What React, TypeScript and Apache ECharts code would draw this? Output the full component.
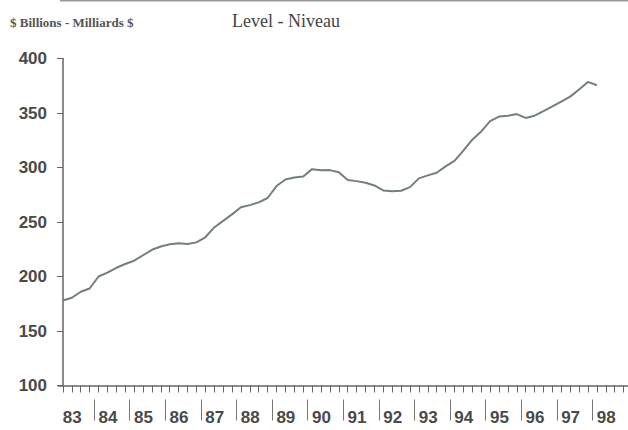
import React, { useEffect, useRef } from "react";
import * as echarts from "echarts";

// Quarterly categories 1983Q1 .. 1998Q4
const years = ["83", "84", "85", "86", "87", "88", "89", "90", "91", "92", "93", "94", "95", "96", "97", "98"];
const quarters: string[] = [];
years.forEach((y) => {
  for (let q = 1; q <= 4; q++) quarters.push(y + "Q" + q);
});

// Level, $ billions, 1983Q1 .. 1998Q1
const level = [
  178, 180.5, 186, 189,
  200, 203.5, 208, 211.5,
  214.5, 219.5, 224.5, 227.5,
  229.5, 230.5, 229.8, 231.3,
  236, 245, 251, 257,
  263.5, 265.5, 268, 272,
  283, 289, 290.8, 291.7,
  298.5, 297.5, 297.6, 295.7,
  288.5, 287.5, 286, 283.5,
  279, 278.3, 278.7, 282,
  290, 292.8, 295.2, 301,
  306, 315.5, 325.5, 333,
  342.5, 346.7, 347.5, 349,
  345.5, 347.5, 351.7, 356,
  360.5, 365, 371.5, 378.5,
  375.5,
];

const yMin = 100;
const yMax = 400;
const yStep = 50;

export default function App() {
  const ref = useRef<HTMLDivElement>(null);
  useEffect(() => {
    if (!ref.current) return;
    const chart = echarts.init(ref.current, null, { renderer: "svg" });
    const axisColor = "#666";
    const textColor = "#4a4a4a";
    chart.setOption({
      animation: false,
      backgroundColor: "#fff",
      title: [
        {
          text: "$ Billions - Milliards $",
          left: 5,
          top: 11,
          textStyle: { fontFamily: "Liberation Serif", fontSize: 13, fontWeight: "bold", color: "#555" },
        },
        {
          text: "Level - Niveau",
          left: 227,
          top: 7,
          textStyle: { fontFamily: "Liberation Serif", fontSize: 18, fontWeight: "normal", color: "#444" },
        },
      ],
      graphic: [
        {
          type: "line",
          shape: { x1: 60, y1: 0.75, x2: 628, y2: 0.75 },
          style: { stroke: "#999", lineWidth: 1.5 },
          silent: true,
        },
      ],
      grid: { left: 58.5, top: 58.5, width: 573.4, height: 327 },
      xAxis: [
        {
          type: "category",
          data: quarters,
          boundaryGap: true,
          axisLine: { show: true, lineStyle: { color: axisColor, width: 1.5 } },
          axisTick: { show: true, alignWithLabel: true, interval: 0, length: 7, lineStyle: { color: axisColor } },
          axisLabel: { show: false },
          splitLine: { show: false },
        },
        {
          type: "category",
          data: years,
          position: "bottom",
          offset: 14,
          boundaryGap: true,
          axisLine: { show: false },
          axisTick: {
            show: true,
            alignWithLabel: false,
            interval: (i: number) => i > 0,
            length: 21,
            lineStyle: { color: "#777" },
          },
          axisLabel: {
            interval: 0,
            margin: 9,
            fontFamily: "Liberation Sans",
            fontSize: 17,
            fontWeight: "bold",
            color: textColor,
            padding: [0, 8, 0, 0],
          },
          splitLine: { show: false },
        },
      ],
      yAxis: {
        type: "value",
        min: yMin,
        max: yMax,
        interval: yStep,
        offset: -4.5,
        axisLine: { show: true, lineStyle: { color: axisColor, width: 1.5 } },
        axisTick: { show: true, length: 6, lineStyle: { color: axisColor } },
        axisLabel: {
          margin: 16,
          fontFamily: "Liberation Sans",
          fontSize: 17,
          fontWeight: "bold",
          color: textColor,
          padding: [8, 0, 0, 0],
        },
        splitLine: { show: false },
      },
      series: [
        {
          type: "line",
          xAxisIndex: 0,
          data: level,
          showSymbol: false,
          symbol: "none",
          lineStyle: { color: "#738078", width: 2 },
        },
      ],
    });
    return () => chart.dispose();
  }, []);
  return <div ref={ref} style={{ position: "fixed", left: 0, top: 0, width: 628, height: 430 }} />;
}
